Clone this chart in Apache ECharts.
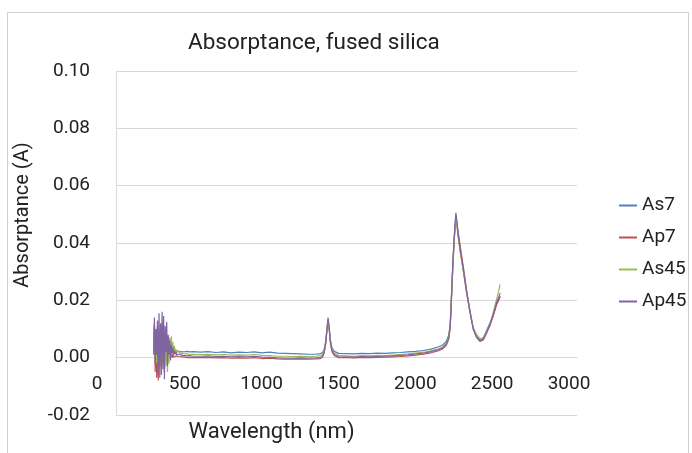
<!DOCTYPE html>
<html>
<head>
<meta charset="utf-8">
<script src="https://cdn.jsdelivr.net/npm/echarts@6/dist/echarts.min.js"></script>
<style>html,body{margin:0;padding:0;background:#fff;}#c{width:692px;height:453px;}</style>
</head>
<body>
<div id="c"></div>
<script>
// Wavelength (nm)
const wavelength = [
  245,250,255,260,265,270,275,280,285,290,295,300,305,310,315,320,325,330,335,340,345,350,355,360,365,370,375,380,385,390,395,400,
  410,420,430,440,450,465,480,500,
  550,600,650,700,750,800,850,900,950,1000,1050,1100,1150,1200,1250,1300,
  1330,1345,1355,1365,1372,1380,1388,1395,1405,1420,1450,
  1500,1550,1600,1650,1700,1750,1800,1850,1900,1950,2000,2050,2100,
  2125,2150,2165,2175,2185,2192,2200,2206,2212,2218,2225,2240,2260,2282,2304,2325,2347,2369,2390,2412,2434,2455,2477,2490,2500
];
const seriesNames = ['As7','Ap7','As45','Ap45'];
const as7 = [
  0.0040,0.0120,0.0010,0.0090,-0.0010,0.0110,0.0000,0.0080,0.0005,0.0095,-0.0015,0.0070,0.0010,0.0065,0.0000,0.0060,0.0015,0.0050,0.0010,0.0040,0.0018,0.0035,0.0020,0.0030,0.0022,0.0028,0.0024,0.0026,0.0022,0.0025,0.0021,0.0024,
  0.0022,0.0024,0.0020,0.0023,0.0021,0.0022,0.0020,0.0021,
  0.0019,0.0021,0.0018,0.0020,0.0017,0.0019,0.0018,0.0020,0.0017,0.0019,0.0016,0.0015,0.0014,0.0013,0.0012,0.0012,
  0.0014,0.0018,0.0030,0.0058,0.0098,0.0132,0.0100,0.0062,0.0035,0.0022,0.0015,
  0.0014,0.0013,0.0015,0.0014,0.0016,0.0015,0.0017,0.0018,0.0020,0.0022,0.0025,0.0030,0.0038,
  0.0044,0.0058,0.0078,0.0118,0.0240,0.0325,0.0408,0.0455,0.0492,0.0470,0.0430,0.0372,0.0305,0.0226,0.0158,0.0102,0.0074,0.0061,0.0068,0.0095,0.0122,0.0148,0.0188,0.0205,0.0215
];
const ap7 = [
  0.0010,0.0110,-0.0050,0.0080,-0.0070,0.0100,-0.0080,0.0090,-0.0030,0.0070,-0.0060,0.0085,-0.0020,0.0060,-0.0050,0.0050,-0.0010,0.0040,-0.0020,0.0030,0.0000,0.0020,0.0005,0.0015,0.0000,0.0012,0.0002,0.0008,0.0000,0.0006,0.0000,0.0004,
  0.0004,0.0002,0.0003,0.0001,0.0002,0.0000,0.0001,0.0000,
  0.0000,0.0001,-0.0001,0.0000,-0.0002,-0.0001,-0.0002,0.0000,-0.0003,-0.0002,-0.0004,-0.0005,-0.0005,-0.0004,-0.0005,-0.0004,
  -0.0003,0.0003,0.0018,0.0048,0.0090,0.0128,0.0095,0.0052,0.0022,0.0008,0.0000,
  0.0000,-0.0001,0.0001,0.0000,0.0001,0.0002,0.0003,0.0004,0.0006,0.0009,0.0012,0.0017,0.0024,
  0.0030,0.0044,0.0064,0.0104,0.0225,0.0315,0.0400,0.0448,0.0485,0.0472,0.0445,0.0390,0.0318,0.0235,0.0162,0.0100,0.0070,0.0057,0.0062,0.0086,0.0112,0.0146,0.0185,0.0200,0.0212
];
const as45 = [
  0.0030,0.0080,0.0000,0.0070,-0.0020,0.0090,0.0010,0.0080,-0.0030,0.0075,0.0005,0.0090,-0.0020,0.0070,-0.0010,0.0085,-0.0030,0.0075,-0.0050,0.0060,-0.0020,0.0070,0.0000,0.0075,0.0010,0.0055,0.0020,0.0040,0.0022,0.0030,0.0018,0.0025,
  0.0020,0.0016,0.0015,0.0013,0.0012,0.0013,0.0011,0.0012,
  0.0011,0.0012,0.0010,0.0011,0.0009,0.0010,0.0009,0.0011,0.0008,0.0007,0.0005,0.0005,0.0004,0.0005,0.0004,0.0005,
  0.0007,0.0012,0.0025,0.0055,0.0095,0.0130,0.0098,0.0058,0.0030,0.0016,0.0008,
  0.0006,0.0005,0.0007,0.0006,0.0008,0.0007,0.0009,0.0011,0.0013,0.0016,0.0019,0.0024,0.0031,
  0.0037,0.0051,0.0071,0.0112,0.0235,0.0322,0.0405,0.0452,0.0488,0.0466,0.0428,0.0370,0.0303,0.0226,0.0160,0.0105,0.0080,0.0066,0.0070,0.0090,0.0118,0.0158,0.0205,0.0232,0.0256
];
const ap45 = [
  0.0020,0.0140,-0.0020,0.0100,0.0010,0.0130,-0.0060,0.0155,-0.0070,0.0120,0.0000,0.0160,-0.0040,0.0145,-0.0075,0.0110,0.0020,0.0125,-0.0030,0.0080,0.0010,0.0060,-0.0010,0.0045,0.0015,0.0035,0.0010,0.0025,0.0012,0.0020,0.0010,0.0016,
  0.0013,0.0010,0.0008,0.0009,0.0007,0.0006,0.0007,0.0005,
  0.0005,0.0006,0.0004,0.0005,0.0003,0.0004,0.0003,0.0005,0.0002,0.0001,-0.0001,-0.0002,-0.0002,-0.0001,-0.0002,-0.0001,
  0.0000,0.0006,0.0021,0.0052,0.0095,0.0140,0.0102,0.0058,0.0027,0.0011,0.0002,
  0.0003,0.0002,0.0004,0.0003,0.0004,0.0005,0.0006,0.0008,0.0010,0.0013,0.0016,0.0021,0.0028,
  0.0034,0.0048,0.0068,0.0110,0.0240,0.0330,0.0415,0.0465,0.0505,0.0478,0.0437,0.0377,0.0308,0.0228,0.0158,0.0099,0.0071,0.0058,0.0064,0.0089,0.0116,0.0151,0.0193,0.0210,0.0225
];
const seriesValues = [as7, ap7, as45, ap45];
const seriesColors = ['#4F81BD','#C0504D','#9BBB59','#8064A2'];
const xTicks = [0,500,1000,1500,2000,2500,3000];
const yTicks = [-0.02,0,0.02,0.04,0.06,0.08,0.10];

const FONT = 'Roboto';
const TXT = '#222222';
const GRID = '#d9d9d9';

const GRID_TOP = 71, GRID_BOTTOM = 38, H = 453;
// shift the horizontal axis up to the y = 0 line (it crosses the value axis at 0)
const plotH = H - GRID_TOP - GRID_BOTTOM;
const zeroShift = plotH * (0 - yTicks[0]) / (yTicks[yTicks.length - 1] - yTicks[0]);

const chart = echarts.init(document.getElementById('c'), null, {renderer: 'canvas'});
chart.setOption({
  animation: false,
  backgroundColor: '#ffffff',
  graphic: [{
    type: 'rect', silent: true, z: -1,
    shape: {x: 7.5, y: 12.5, width: 681, height: 470},
    style: {fill: 'none', stroke: '#cfcfcf', lineWidth: 1}
  }],
  title: {
    text: 'Absorptance, fused silica',
    left: 183, top: 27,
    textStyle: {fontFamily: FONT, fontSize: 22.5, fontWeight: 'normal', color: TXT}
  },
  legend: {
    orient: 'vertical',
    left: 614, top: 191,
    itemWidth: 18, itemHeight: 2, itemGap: 13,
    icon: 'rect',
    data: seriesNames,
    textStyle: {fontFamily: FONT, fontSize: 19, color: TXT}
  },
  grid: {left: 116, right: 115, top: GRID_TOP, bottom: GRID_BOTTOM, containLabel: false, outerBoundsMode: 'none'},
  xAxis: {
    type: 'value', min: xTicks[0], max: xTicks[xTicks.length - 1], interval: 500,
    position: 'bottom', offset: -zeroShift,
    name: 'Wavelength (nm)', nameLocation: 'middle', nameGap: 64,
    nameTextStyle: {fontFamily: FONT, fontSize: 22, color: TXT, padding: [0, 150, 0, 0]},
    axisLine: {show: true, onZero: false, lineStyle: {color: GRID, width: 1}},
    axisTick: {show: false},
    splitLine: {show: false},
    axisLabel: {
      margin: 17, fontFamily: FONT, fontSize: 19, color: TXT,
      formatter: v => v === 0 ? '{z|0}' : '{n|' + v + '}',
      rich: {
        z: {fontFamily: FONT, fontSize: 19, color: TXT, padding: [0, 38, 0, 0]},
        n: {fontFamily: FONT, fontSize: 19, color: TXT, padding: [0, 16, 0, 0]}
      }
    }
  },
  yAxis: {
    type: 'value', min: yTicks[0], max: yTicks[yTicks.length - 1], interval: 0.02,
    name: 'Absorptance (A)', nameLocation: 'middle', nameGap: 83,
    nameTextStyle: {fontFamily: FONT, fontSize: 20, color: TXT, padding: [0, 0, 0, 56]},
    axisLine: {show: true, lineStyle: {color: GRID, width: 1}},
    axisTick: {show: false},
    splitLine: {show: true, lineStyle: {color: GRID, width: 1}},
    axisLabel: {
      margin: 26, fontFamily: FONT, fontSize: 19, color: TXT,
      formatter: v => v.toFixed(2)
    }
  },
  series: seriesNames.map((name, i) => ({
    name: name,
    type: 'line',
    showSymbol: false,
    symbol: 'none',
    sampling: null,
    color: seriesColors[i],
    lineStyle: {width: 1.2, color: seriesColors[i]},
    data: wavelength.map((w, k) => [w, seriesValues[i][k]])
  }))
});
</script>
</body>
</html>
